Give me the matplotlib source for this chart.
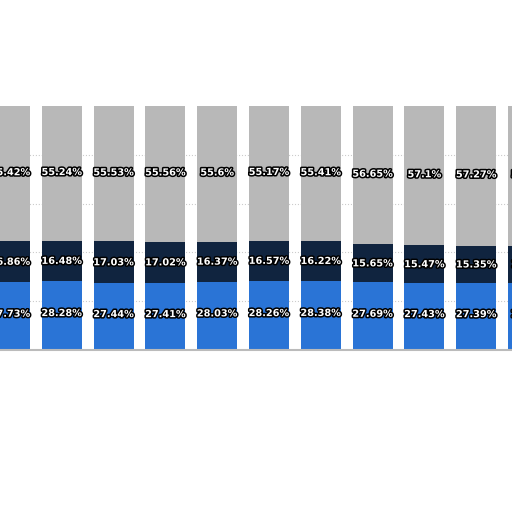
import matplotlib
matplotlib.use("Agg")
import matplotlib.pyplot as plt
import matplotlib.patheffects as pe
import numpy as np

blue = [27.73, 28.28, 27.44, 27.41, 28.03, 28.26, 28.38, 27.69, 27.43, 27.39, 27.5]
navy = [16.86, 16.48, 17.03, 17.02, 16.37, 16.57, 16.22, 15.65, 15.47, 15.35, 15.3]
gray = [55.42, 55.24, 55.53, 55.56, 55.6, 55.17, 55.41, 56.65, 57.1, 57.27, 57.2]
labels_b = ["27.73%", "28.28%", "27.44%", "27.41%", "28.03%", "28.26%", "28.38%", "27.69%", "27.43%", "27.39%", "27.5%"]
labels_n = ["16.86%", "16.48%", "17.03%", "17.02%", "16.37%", "16.57%", "16.22%", "15.65%", "15.47%", "15.35%", "15.3%"]
labels_g = ["55.42%", "55.24%", "55.53%", "55.56%", "55.6%", "55.17%", "55.41%", "56.65%", "57.1%", "57.27%", "57.2%"]

fig = plt.figure(figsize=(5.12, 5.12), dpi=100)
ax = fig.add_axes([0, 0, 1, 1])
x = np.arange(len(blue))
w = 0.77
b = np.array(blue); n = np.array(navy); g = np.array(gray)
ax.bar(x, b, w, color="#2a74d6", zorder=2)
ax.bar(x, n, w, bottom=b, color="#10243f", zorder=2)
ax.bar(x, g, w, bottom=b + n, color="#b8b8b8", zorder=2)
for yv in [20, 40, 60, 80]:
    ax.axhline(yv, color="#cccccc", ls=":", lw=0.8, zorder=1)
ax.plot([-1, 11], [0, 0], color="#bbbbbb", lw=1.5, zorder=3)
eff = [pe.withStroke(linewidth=2.2, foreground="black")]
for i in x:
    for yc, lab in [(b[i] / 2 + 1, labels_b[i]), (b[i] + n[i] / 2, labels_n[i]), (b[i] + n[i] + g[i] * 0.51, labels_g[i])]:
        ax.text(i, yc, lab, ha="center", va="center", color="white", fontsize=7,
                fontweight="bold", path_effects=eff, zorder=4)
sp = 51.8
ax.set_xlim(-10 / sp, (512 - 10) / sp)
ax.set_ylim((350 - 512) * 100 / 244, 350 * 100 / 244)
ax.axis("off")
fig.savefig("out.png", dpi=100)
